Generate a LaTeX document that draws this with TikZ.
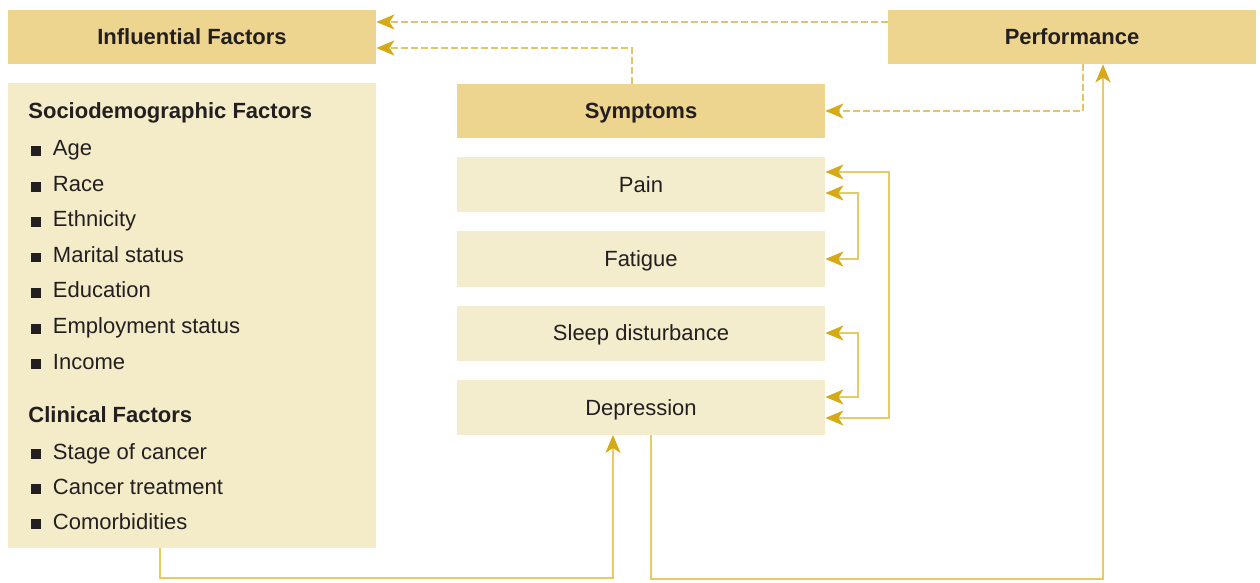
\documentclass[tikz,border=0pt]{standalone}
\usepackage{fontspec}
\setmainfont{Liberation Sans}
\usetikzlibrary{arrows.meta,calc}
\definecolor{darkbox}{RGB}{237,213,143}
\definecolor{lightbox}{RGB}{244,236,200}
\definecolor{symbox}{RGB}{243,237,206}
\definecolor{txt}{RGB}{35,31,32}
\definecolor{linec}{RGB}{230,203,100}
\definecolor{dashc}{RGB}{226,196,105}
\definecolor{tipc}{RGB}{214,170,20}
\newcommand{\bulsq}{\hspace{1.5pt}\rule{4.8pt}{4.8pt}\hspace{6pt}}
\tikzset{
  darkbx/.style={fill=darkbox, minimum width=184pt, minimum height=27pt, inner sep=0pt, text height=8pt, text depth=0pt, font=\fontsize{11}{13}\selectfont\bfseries, text=txt},
  symbx/.style={fill=symbox, minimum width=184pt, minimum height=27.5pt, inner sep=0pt, text height=8pt, text depth=0pt, font=\fontsize{11}{13}\selectfont, text=txt},
  listtxt/.style={anchor=base west, inner sep=0pt, font=\fontsize{11}{13}\selectfont, text=txt},
  listhead/.style={listtxt, font=\fontsize{11}{13}\selectfont\bfseries},
  flow/.style={draw=linec, line width=1pt, -{Stealth[length=9pt,width=7.5pt,inset=2.5pt,color=tipc]}},
  flowboth/.style={draw=linec, line width=1pt, {Stealth[length=9pt,width=7.5pt,inset=2.5pt,color=tipc]}-{Stealth[length=9pt,width=7.5pt,inset=2.5pt,color=tipc]}},
  dashflow/.style={draw=dashc, line width=1pt, dash pattern=on 3.2pt off 1.8pt, -{Stealth[length=9pt,width=7.5pt,inset=2.5pt,color=tipc]}}
}
\begin{document}
\begin{tikzpicture}[x=0.5pt,y=-0.5pt]
\useasboundingbox (0,0) rectangle (1260,583);
% boxes
\node[darkbx] (infl) at (192,37) {Influential Factors};
\node[darkbx] (perf) at (1072,37) {Performance};
\node[fill=lightbox, minimum width=184pt, minimum height=232.5pt, inner sep=0pt] (left) at (192,315.5) {};
\node[darkbx] (symp) at (641,111) {Symptoms};
\node[symbx] (pain) at (641,185) {Pain};
\node[symbx] (fat) at (641,259) {Fatigue};
\node[symbx] (sleep) at (641,333) {Sleep disturbance};
\node[symbx] (dep) at (641,407) {Depression};
% list
\node[listhead] (sdh) at (28,119) {Sociodemographic Factors};
\node[listtxt] (l1) at (28,156) {\bulsq Age};
\node[listtxt] (l2) at (28,191.5) {\bulsq Race};
\node[listtxt] (l3) at (28,227) {\bulsq Ethnicity};
\node[listtxt] (l4) at (28,262.5) {\bulsq Marital status};
\node[listtxt] (l5) at (28,298) {\bulsq Education};
\node[listtxt] (l6) at (28,333.5) {\bulsq Employment status};
\node[listtxt] (l7) at (28,369) {\bulsq Income};
\node[listhead] (clh) at (28,422) {Clinical Factors};
\node[listtxt] (c1) at (28,459) {\bulsq Stage of cancer};
\node[listtxt] (c2) at (28,494) {\bulsq Cancer treatment};
\node[listtxt] (c3) at (28,529) {\bulsq Comorbidities};
% dashed connectors
\draw[dashflow] ([yshift=7.5pt]perf.west) -- ([yshift=7.5pt]infl.east);
\draw[dashflow] ([xshift=-4.5pt]symp.north) |- ([yshift=-5.5pt]infl.east);
\draw[dashflow] ([xshift=5.5pt]perf.south) |- (symp.east);
% solid connectors
\draw[flow] ([xshift=-16pt]left.south) -- ++(0,30) -| ([xshift=-14pt]dep.south);
\draw[flow] ([xshift=5pt]dep.south) -- ++(0,144) -| ([xshift=15.5pt]perf.south);
\draw[flowboth] ([yshift=6.5pt]pain.east) -- ++(64,0) |- ([yshift=-5.5pt]dep.east);
\draw[flowboth] ([yshift=-4pt]pain.east) -- ++(33,0) |- (fat.east);
\draw[flowboth] (sleep.east) -- ++(33,0) |- ([yshift=5pt]dep.east);
\end{tikzpicture}
\end{document}
